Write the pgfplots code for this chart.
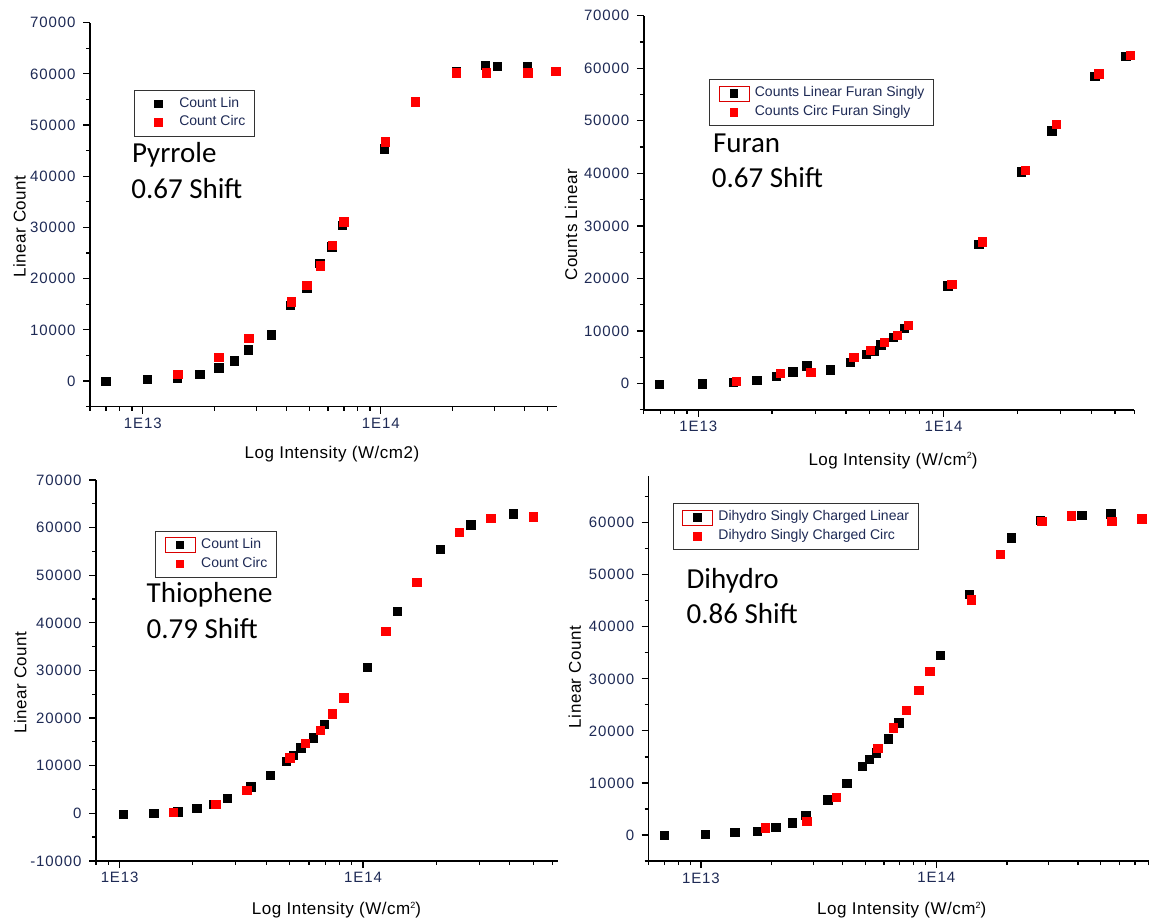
\documentclass[border=0pt]{standalone}
\usepackage{fontspec}
\setmainfont{Liberation Sans}
\newfontfamily\carlito{Carlito}
\newfontfamily\tickfont[LetterSpace=6]{Liberation Sans}
\newfontfamily\labelfont[LetterSpace=3]{Liberation Sans}
\usepackage{pgfplots}
\usepackage{pgfplotstable}
\pgfplotsset{compat=1.18}

\definecolor{tickc}{RGB}{30,42,85}
\newcommand{\sq}{\raisebox{0.75ex}{\fontsize{9}{9}\selectfont 2}}

\pgfplotsset{
  oriplot/.style={
    scale only axis,
    axis x line*=bottom, axis y line*=left,
    axis line style={-, line width=1.5pt, black},
    every outer x axis line/.append style={-},
    every outer y axis line/.append style={-},
    tick align=outside,
    major tick length=7pt, minor tick length=4pt,
    tick style={black, line width=1.2pt},
    xtick={1e13,1e14}, xticklabels={1E13,1E14},
    ytick distance=10000, minor y tick num=1,
    tick label style={font=\tickfont\fontsize{15}{17}\selectfont, text=tickc},
    yticklabel style={xshift=-4pt, /pgf/number format/assume math mode=true,
      /pgf/number format/1000 sep={}, /pgf/number format/fixed},
    xticklabel style={yshift=-1pt},
    scaled y ticks=false,
    label style={font=\labelfont\fontsize{17}{20}\selectfont},
    clip=false,
    legend cell align=left,
    legend style={draw=black!80, line width=1pt, fill=white, anchor=north west,
      inner xsep=9pt, inner ysep=6pt, row sep=3.5pt,
      font=\fontsize{14}{16}\selectfont, text=tickc,
      nodes={inner sep=0pt, text height=10pt, text depth=3.5pt}},
  },
  sqk/.style={only marks, mark=square*, mark size=4.2pt, black,
    mark options={draw=black, fill=black, line width=0.3pt},
    legend image code/.code={\path[draw=none, fill=none] (0pt,-7.5pt) rectangle (36pt,7.5pt);
      \fill[black] (11.2pt,-3.8pt) rectangle (18.8pt,3.8pt);}},
  sqkbox/.style={only marks, mark=square*, mark size=4.2pt, black,
    mark options={draw=black, fill=black, line width=0.3pt},
    legend image code/.code={\path[draw=none, fill=none] (0pt,-7.5pt) rectangle (36pt,7.5pt);
      \draw[red!85!black, line width=0.7pt, fill=none] (0pt,-7.5pt) rectangle (30pt,7.5pt);
      \fill[black] (11.2pt,-3.8pt) rectangle (18.8pt,3.8pt);}},
  sqr/.style={only marks, mark=square*, mark size=4.2pt, red,
    mark options={draw=red, fill=red, line width=0.3pt},
    legend image code/.code={\path[draw=none, fill=none] (0pt,-7.5pt) rectangle (36pt,7.5pt);
      \fill[red] (11.2pt,-3.8pt) rectangle (18.8pt,3.8pt);}},
}

% Pyrrole
\pgfplotstableread{
x y
6.97e12 0
1.04e13 390
1.39e13 650
1.73e13 1370
2.08e13 2600
2.42e13 3970
2.77e13 6120
3.47e13 9110
4.17e13 14840
4.87e13 18290
5.54e13 22980
6.22e13 26240
6.89e13 30400
1.035e14 45380
2.07e14 60550
2.75e14 61720
3.09e14 61520
4.12e14 61390
}\pyrlin
\pgfplotstableread{
x y
1.40e13 1300
2.08e13 4690
2.78e13 8330
4.19e13 15490
4.87e13 18750
5.56e13 22530
6.24e13 26500
6.97e13 31120
1.04e14 46740
1.39e14 54560
2.07e14 60220
2.77e14 60220
4.14e14 60220
5.42e14 60550
}\pyrcirc

% Furan
\pgfplotstableread{
x y
6.93e12 -100
1.04e13 0
1.39e13 250
1.73e13 700
2.08e13 1400
2.43e13 2280
2.77e13 3400
3.45e13 2630
4.16e13 4070
4.84e13 5620
5.21e13 6280
5.55e13 7420
6.24e13 8830
6.93e13 10530
1.04e14 18640
1.39e14 26500
2.07e14 40330
2.76e14 48130
4.14e14 58530
5.52e14 62360
}\furlin
\pgfplotstableread{
x y
1.43e13 510
2.16e13 1970
2.87e13 2170
4.30e13 5000
5.02e13 6380
5.73e13 7900
6.47e13 9260
7.16e13 11100
1.08e14 18960
1.44e14 27010
2.15e14 40580
2.88e14 49330
4.29e14 59000
5.77e14 62550
}\furcirc

% Thiophene
\pgfplotstableread{
x y
1.035e13 -210
1.38e13 0
1.73e13 350
2.07e13 1050
2.42e13 1960
2.76e13 3150
3.45e13 5600
4.16e13 7950
4.83e13 10990
5.16e13 12250
5.55e13 13780
6.23e13 15850
6.92e13 18720
1.04e14 30660
1.38e14 42490
2.08e14 55440
2.77e14 60620
4.15e14 62930
}\thilin
\pgfplotstableread{
x y
1.66e13 280
2.48e13 1960
3.32e13 4900
5.00e13 11690
5.80e13 14730
6.65e13 17500
7.48e13 20930
8.32e13 24290
1.24e14 38290
1.66e14 48510
2.49e14 59010
3.34e14 62020
4.99e14 62300
}\thicirc

% Dihydro
\pgfplotstableread{
x y
6.98e12 0
1.04e13 130
1.39e13 580
1.73e13 770
2.08e13 1470
2.44e13 2370
2.79e13 3780
3.46e13 6790
4.16e13 10000
4.84e13 13260
5.20e13 14540
5.55e13 15810
6.24e13 18540
6.92e13 21580
1.04e14 34570
1.38e14 46220
2.08e14 57110
2.76e14 60500
4.15e14 61460
5.52e14 61780
}\dihlin
\pgfplotstableread{
x y
1.88e13 1410
2.81e13 2690
3.76e13 7230
5.64e13 16680
6.55e13 20610
7.47e13 24010
8.41e13 27790
9.36e13 31500
1.41e14 45200
1.87e14 53970
2.81e14 60310
3.74e14 61330
5.57e14 60310
7.46e14 60820
}\dihcirc

\begin{document}
\begin{tikzpicture}
\fill[white] (0pt,0pt) rectangle (1151pt,921pt);
\useasboundingbox (0pt,0pt) rectangle (1151pt,921pt);

% Pyrrole
\begin{axis}[xmode=log, oriplot, at={(90pt,514.3pt)}, anchor=south west,
  width=467pt, height=384pt,
  xmin=6e12, xmax=5.5e14, ymin=-5000, ymax=70000,
  minor xtick={6e12,7e12,8e12,9e12,2e13,3e13,4e13,5e13,6e13,7e13,8e13,9e13,2e14,3e14,4e14,5e14},
  xlabel={Log Intensity (W/cm2)}, ylabel={Linear Count},
  xlabel style={at={(axis description cs:0.518,-0.1336)}, anchor=base},
  ylabel style={at={(axis description cs:-0.1379,0.469)}, anchor=base},
  legend style={at={(axis description cs:0.0936,0.8247)}}]
\addplot[sqk] table {\pyrlin};
\addplot[sqr] table {\pyrcirc};
\legend{Count Lin, Count Circ}
\end{axis}

% Furan
\begin{axis}[xmode=log, oriplot, at={(643.8pt,511.1pt)}, anchor=south west,
  width=490.5pt, height=394.2pt,
  xmin=6e12, xmax=6e14, ymin=-5000, ymax=70000,
  minor xtick={6e12,7e12,8e12,9e12,2e13,3e13,4e13,5e13,6e13,7e13,8e13,9e13,2e14,3e14,4e14,5e14,6e14},
  xlabel={Log Intensity (W/cm\sq)}, ylabel={Counts Linear},
  xlabel style={at={(axis description cs:0.508,-0.1398)}, anchor=base},
  ylabel style={at={(axis description cs:-0.1362,0.469)}, anchor=base},
  legend style={at={(axis description cs:0.1329,0.8394)}}]
\addplot[sqkbox] table {\furlin};
\addplot[sqr] table {\furcirc};
\legend{Counts Linear Furan Singly, Counts Circ Furan Singly}
\end{axis}

% Thiophene
\begin{axis}[xmode=log, oriplot, at={(96pt,60.1pt)}, anchor=south west,
  width=461.5pt, height=380.9pt,
  xmin=8e12, xmax=6.3e14, ymin=-10000, ymax=70000,
  minor xtick={8e12,9e12,2e13,3e13,4e13,5e13,6e13,7e13,8e13,9e13,2e14,3e14,4e14,5e14,6e14},
  xlabel={Log Intensity (W/cm\sq)}, ylabel={Linear Count},
  xlabel style={at={(axis description cs:0.521,-0.1418)}, anchor=base},
  ylabel style={at={(axis description cs:-0.1508,0.468)}, anchor=base},
  legend style={at={(axis description cs:0.1285,0.8669)}}]
\addplot[sqkbox] table {\thilin};
\addplot[sqr] table {\thicirc};
\legend{Count Lin, Count Circ}
\end{axis}

% Dihydro
\begin{axis}[xmode=log, oriplot, at={(648.7pt,60pt)}, anchor=south west,
  width=500pt, height=385.1pt,
  xmin=6e12, xmax=8e14, ymin=-5000, ymax=69000,
  minor xtick={6e12,7e12,8e12,9e12,2e13,3e13,4e13,5e13,6e13,7e13,8e13,9e13,2e14,3e14,4e14,5e14,6e14,7e14,8e14},
  xlabel={Log Intensity (W/cm\sq)}, ylabel={Linear Count},
  xlabel style={at={(axis description cs:0.506,-0.1402)}, anchor=base},
  ylabel style={at={(axis description cs:-0.1358,0.478)}, anchor=base},
  legend style={at={(axis description cs:0.0476,0.9289)}}]
\addplot[sqkbox] table {\dihlin};
\addplot[sqr] table {\dihcirc};
\legend{Dihydro Singly Charged Linear, Dihydro Singly Charged Circ}
\end{axis}

% Molecule names and shifts
\begin{scope}[every node/.style={anchor=base west, inner sep=0pt,
    font=\carlito\fontsize{29}{35}\selectfont}]
\node at (131.9pt,758.3pt) {Pyrrole};
\node at (131.1pt,722pt) {0.67 Shift};
\node at (712.8pt,768.3pt) {Furan};
\node at (711.7pt,733.3pt) {0.67 Shift};
\node at (146.5pt,318.3pt) {Thiophene};
\node at (146.5pt,282.3pt) {0.79 Shift};
\node at (686.4pt,332pt) {Dihydro};
\node at (686.4pt,297pt) {0.86 Shift};
\end{scope}
\end{tikzpicture}
\end{document}
